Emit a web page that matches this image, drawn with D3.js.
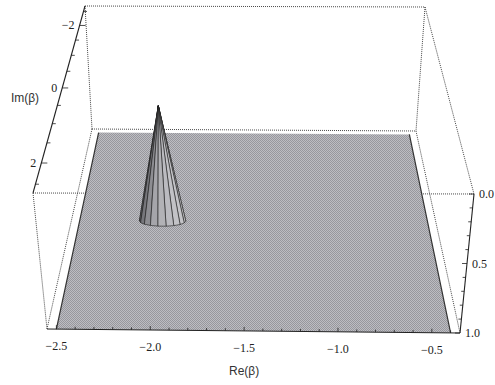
<!DOCTYPE html>
<html>
<head>
<meta charset="utf-8">
<script src="https://cdnjs.cloudflare.com/ajax/libs/d3/7.8.5/d3.min.js"></script>
<style>
  body { margin: 0; background: #fff; }
  .num { font-family: "Liberation Serif", "DejaVu Serif", "Times New Roman", serif; font-size: 12px; fill: #222; }
  .lab { font-family: "Liberation Sans", Arial, sans-serif; font-size: 12px; fill: #333; }
</style>
</head>
<body>
<svg id="chart" width="495" height="385"></svg>
<script>
// plot box ranges
const boxRe = [-2.55, -0.35];
const boxIm = [-2.7, 2.7];
const boxZ = [0, 1];

// flat surface (clipped at 1) and the dip around the zero
const surfaceRe = [-2.5, -0.4];
const surfaceIm = [-2.58, 2.7];
const surfaceZ = 1.0;
const coneCenter = [-2.0, 0.1];   // Re, Im
const coneRadius = 0.14;
const coneTipZ = 0.11;
const coneSegments = 18;

// ticks
const reTicks = [-2.5, -2.0, -1.5, -1.0, -0.5];
const reTickLabels = ["−2.5", "−2.0", "−1.5", "−1.0", "−0.5"];
const reMinor = [-2.5, -2.4, -2.3, -2.2, -2.1, -2.0, -1.9, -1.8, -1.7, -1.6, -1.5,
                 -1.4, -1.3, -1.2, -1.1, -1.0, -0.9, -0.8, -0.7, -0.6, -0.5, -0.4];
const imTicks = [-2, 0, 2];
const imTickLabels = ["−2", "0", "2"];
const imMinor = [-2.5, -2, -1.5, -1, -0.5, 0, 0.5, 1, 1.5, 2, 2.5];
const zTicks = [0.0, 0.5, 1.0];
const zTickLabels = ["0.0", "0.5", "1.0"];
const zMinor = [0, 0.1, 0.2, 0.3, 0.4, 0.5, 0.6, 0.7, 0.8, 0.9, 1.0];

const svg = d3.select("#chart");

// screen corners of the box (t=top, b=bottom, b/f = back/front, l/r)
const K = {
  tbl: [85, 6], tbr: [425, 7], tfl: [33, 193], tfr: [474, 194],
  bbl: [92, 129], bbr: [416, 131], bfl: [47, 329], bfr: [460, 333]
};
const sRe = d3.scaleLinear().domain(boxRe).range([0, 1]);
const sIm = d3.scaleLinear().domain(boxIm).range([0, 1]);
const sZ = d3.scaleLinear().domain(boxZ).range([0, 1]);
const persp = -0.22;
function depth(im) {
  const u = sIm(im);
  return u * (1 + persp) / (1 + persp * u);
}
const lerp = (a, b, t) => [a[0] + (b[0] - a[0]) * t, a[1] + (b[1] - a[1]) * t];
function project(re, im, z) {
  const u = sRe(re), p = depth(im), w = sZ(z);
  const top = lerp(lerp(K.tbl, K.tbr, u), lerp(K.tfl, K.tfr, u), p);
  const bot = lerp(lerp(K.bbl, K.bbr, u), lerp(K.bfl, K.bfr, u), p);
  return lerp(top, bot, w);
}
const line = d3.line();

// halftone-ish fill like the scan
const defs = svg.append("defs");
const pat = defs.append("pattern").attr("id", "dither")
    .attr("width", 2).attr("height", 2).attr("patternUnits", "userSpaceOnUse");
pat.append("rect").attr("width", 2).attr("height", 2).attr("fill", "#bdbdc2");
pat.append("rect").attr("width", 1).attr("height", 1).attr("fill", "#97979d");
pat.append("rect").attr("x", 1).attr("y", 1).attr("width", 1).attr("height", 1).attr("fill", "#97979d");

// box edges (dotted)
const [r0, r1] = boxRe, [i0, i1] = boxIm, [z0, z1] = boxZ;
const boxEdges = [
  [[r0, i0, z0], [r1, i0, z0]],
  [[r0, i0, z0], [r0, i0, z1]],
  [[r1, i0, z0], [r1, i0, z1]],
  [[r0, i0, z1], [r1, i0, z1]],
  [[r0, i1, z0], [r1, i1, z0]],
  [[r0, i1, z0], [r0, i1, z1]],
  [[r1, i0, z0], [r1, i1, z0]],
  [[r0, i0, z1], [r0, i1, z1]],
  [[r1, i0, z1], [r1, i1, z1]]
];
svg.append("g").selectAll("path").data(boxEdges).join("path")
    .attr("d", d => line(d.map(c => project(...c))))
    .attr("fill", "none").attr("stroke", "#333")
    .attr("stroke-width", 0.9).attr("stroke-dasharray", "1,1");

// surface
const surf = [
  [surfaceRe[0], surfaceIm[0]], [surfaceRe[1], surfaceIm[0]],
  [surfaceRe[1], surfaceIm[1]], [surfaceRe[0], surfaceIm[1]]
].map(d => project(d[0], d[1], surfaceZ));
svg.append("path").attr("d", line(surf) + "Z").attr("fill", "url(#dither)");
svg.append("path").attr("d", line([surf[1], surf[2]])).attr("stroke", "#333").attr("stroke-width", 1.2);
svg.append("path").attr("d", line([surf[0], surf[3]])).attr("stroke", "#333").attr("stroke-width", 1.2);

// cone facets, back to front
const apex = project(coneCenter[0], coneCenter[1], coneTipZ);
const shade = d3.scaleLinear().domain([-1, 0.2, 1]).range(["#55555a", "#a8a8ad", "#c4c4c8"]);
const facets = d3.range(coneSegments).map(i => {
  const a1 = 2 * Math.PI * i / coneSegments, a2 = 2 * Math.PI * (i + 1) / coneSegments;
  const mid = (a1 + a2) / 2;
  const b1 = project(coneCenter[0] + coneRadius * Math.cos(a1), coneCenter[1] + coneRadius * Math.sin(a1), surfaceZ);
  const b2 = project(coneCenter[0] + coneRadius * Math.cos(a2), coneCenter[1] + coneRadius * Math.sin(a2), surfaceZ);
  return {pts: [apex, b1, b2], d: Math.sin(mid), lum: Math.cos(mid - 0.5)};
}).sort((a, b) => a.d - b.d);
svg.append("g").selectAll("path").data(facets).join("path")
    .attr("d", f => line(f.pts) + "Z")
    .attr("fill", f => shade(f.lum))
    .attr("stroke", "#1e1e1e").attr("stroke-width", 0.6).attr("stroke-linejoin", "round");

// axes
const axisG = svg.append("g").attr("stroke", "#222").attr("fill", "none");
// Re axis (front bottom edge)
axisG.append("path").attr("d", line([project(r0, i1, z1), project(r1, i1, z1)])).attr("stroke-width", 1.1);
axisG.selectAll(".rt").data(reMinor).join("path")
    .attr("d", d => {
      const p = project(d, i1, z1);
      const len = reTicks.includes(d) ? 4 : 2.5;
      return line([p, [p[0], p[1] - len]]);
    }).attr("stroke-width", 0.8);
svg.selectAll(".rl").data(reTicks).join("text").attr("class", "num")
    .attr("x", d => project(d, i1, z1)[0])
    .attr("y", d => project(d, i1, z1)[1] + 21)
    .attr("text-anchor", "middle")
    .text((d, i) => reTickLabels[i]);
svg.append("text").attr("class", "lab")
    .attr("x", project(-1.5, i1, z1)[0]).attr("y", 375)
    .attr("text-anchor", "middle").text("Re(β)");

// Im axis (top left edge)
axisG.append("path").attr("d", line([project(r0, i0, z0), project(r0, i1, z0)])).attr("stroke-width", 1.1);
axisG.selectAll(".it").data(imMinor).join("path")
    .attr("d", d => {
      const q = project(r0, d, z0);
      const len = imTicks.includes(d) ? 6 : 3.5;
      return line([q, [q[0] + len, q[1]]]);
    }).attr("stroke-width", 0.8);
svg.selectAll(".il").data(imTicks).join("text").attr("class", "num")
    .attr("x", d => project(r0, d, z0)[0] - 5)
    .attr("y", d => project(r0, d, z0)[1] + 4)
    .attr("text-anchor", "end")
    .text((d, i) => imTickLabels[i]);
svg.append("text").attr("class", "lab")
    .attr("x", 25).attr("y", 102)
    .attr("text-anchor", "middle").text("Im(β)");

// z axis (front right vertical edge)
axisG.append("path").attr("d", line([project(r1, i1, z0), project(r1, i1, z1)])).attr("stroke-width", 1.1);
axisG.selectAll(".zt").data(zMinor).join("path")
    .attr("d", d => {
      const q = project(r1, i1, d);
      const len = zTicks.includes(d) ? 5 : 3;
      return line([q, [q[0] - len, q[1]]]);
    }).attr("stroke-width", 0.8);
svg.selectAll(".zl").data(zTicks).join("text").attr("class", "num")
    .attr("x", d => project(r1, i1, d)[0] + 5)
    .attr("y", d => project(r1, i1, d)[1] + 4)
    .attr("text-anchor", "start")
    .text((d, i) => zTickLabels[i]);
</script>
</body>
</html>
